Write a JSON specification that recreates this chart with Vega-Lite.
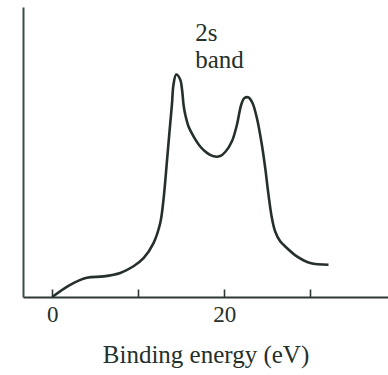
{
  "$schema": "https://vega.github.io/schema/vega-lite/v6.json",
  "width": 365,
  "height": 290,
  "autosize": {"type": "none"},
  "padding": {"left": 23, "top": 7, "right": 0, "bottom": 78},
  "background": "white",
  "config": {"view": {"stroke": null}},
  "datasets": {
    "spectrum": [
      {"energy": 0.0, "intensity": 0.0},
      {"energy": 2.09, "intensity": 4.2},
      {"energy": 4.03, "intensity": 6.6},
      {"energy": 5.97, "intensity": 7.1},
      {"energy": 7.91, "intensity": 8.3},
      {"energy": 9.45, "intensity": 10.6},
      {"energy": 10.62, "intensity": 13.4},
      {"energy": 11.78, "intensity": 18.6},
      {"energy": 12.56, "intensity": 25.5},
      {"energy": 12.94, "intensity": 33.6},
      {"energy": 13.34, "intensity": 46.8},
      {"energy": 13.64, "intensity": 57.1},
      {"energy": 13.92, "intensity": 66.3},
      {"energy": 14.1, "intensity": 73.2},
      {"energy": 14.42, "intensity": 76.7},
      {"energy": 14.88, "intensity": 75.0},
      {"energy": 15.12, "intensity": 70.9},
      {"energy": 15.27, "intensity": 66.3},
      {"energy": 15.47, "intensity": 62.9},
      {"energy": 15.85, "intensity": 58.8},
      {"energy": 16.43, "intensity": 55.4},
      {"energy": 17.21, "intensity": 51.9},
      {"energy": 17.99, "intensity": 49.7},
      {"energy": 18.76, "intensity": 48.5},
      {"energy": 19.53, "intensity": 48.6},
      {"energy": 20.12, "intensity": 50.0},
      {"energy": 20.9, "intensity": 53.7},
      {"energy": 21.48, "intensity": 59.4},
      {"energy": 21.98, "intensity": 66.3},
      {"energy": 22.36, "intensity": 68.6},
      {"energy": 22.83, "intensity": 68.8},
      {"energy": 23.29, "intensity": 66.9},
      {"energy": 23.8, "intensity": 61.7},
      {"energy": 24.38, "intensity": 52.5},
      {"energy": 24.77, "intensity": 44.5},
      {"energy": 25.15, "intensity": 35.3},
      {"energy": 25.55, "intensity": 27.2},
      {"energy": 25.93, "intensity": 22.6},
      {"energy": 26.51, "intensity": 19.2},
      {"energy": 26.9, "intensity": 18.0},
      {"energy": 28.45, "intensity": 14.0},
      {"energy": 30.0, "intensity": 11.7},
      {"energy": 32.13, "intensity": 11.1}
    ],
    "labels": [
      {"energy": 16.63, "intensity": 91.1, "text": "2", "style": "normal"},
      {"energy": 18.1, "intensity": 91.1, "text": "s", "style": "italic"},
      {"energy": 16.63, "intensity": 81.8, "text": "band", "style": "normal"}
    ]
  },
  "layer": [
    {
      "data": {"name": "spectrum"},
      "mark": {"type": "line", "interpolate": "catmull-rom", "color": "#25302a", "strokeWidth": 2.6},
      "encoding": {
        "x": {
          "field": "energy",
          "type": "quantitative",
          "scale": {"domain": [-3.4, 39.05], "nice": false, "zero": false},
          "axis": {
            "title": "Binding energy (eV)",
            "values": [0, 10, 20, 30],
            "labelExpr": "datum.value % 20 === 0 ? datum.label : ''",
            "grid": false,
            "domainColor": "#2c3a32",
            "domainWidth": 2,
            "tickColor": "#2c3a32",
            "tickWidth": 1.6,
            "tickSize": -8,
            "labelFont": "Liberation Serif",
            "labelFontSize": 23,
            "labelColor": "#25302a",
            "labelPadding": 14,
            "labelFlush": false,
            "titleFont": "Liberation Serif",
            "titleFontSize": 25,
            "titleFontWeight": "normal",
            "titleColor": "#25302a",
            "titlePadding": 16
          }
        },
        "y": {
          "field": "intensity",
          "type": "quantitative",
          "scale": {"domain": [0, 100], "nice": false},
          "axis": {
            "title": null,
            "labels": false,
            "ticks": false,
            "grid": false,
            "domainColor": "#3a4c4a",
            "domainWidth": 2
          }
        }
      }
    },
    {
      "data": {"name": "labels"},
      "mark": {"type": "text", "align": "left", "baseline": "middle", "font": "Liberation Serif", "fontSize": 25, "color": "#25302a"},
      "encoding": {
        "x": {"field": "energy", "type": "quantitative"},
        "y": {"field": "intensity", "type": "quantitative"},
        "text": {"field": "text"},
        "fontStyle": {"field": "style", "type": "nominal", "scale": null}
      }
    }
  ]
}
